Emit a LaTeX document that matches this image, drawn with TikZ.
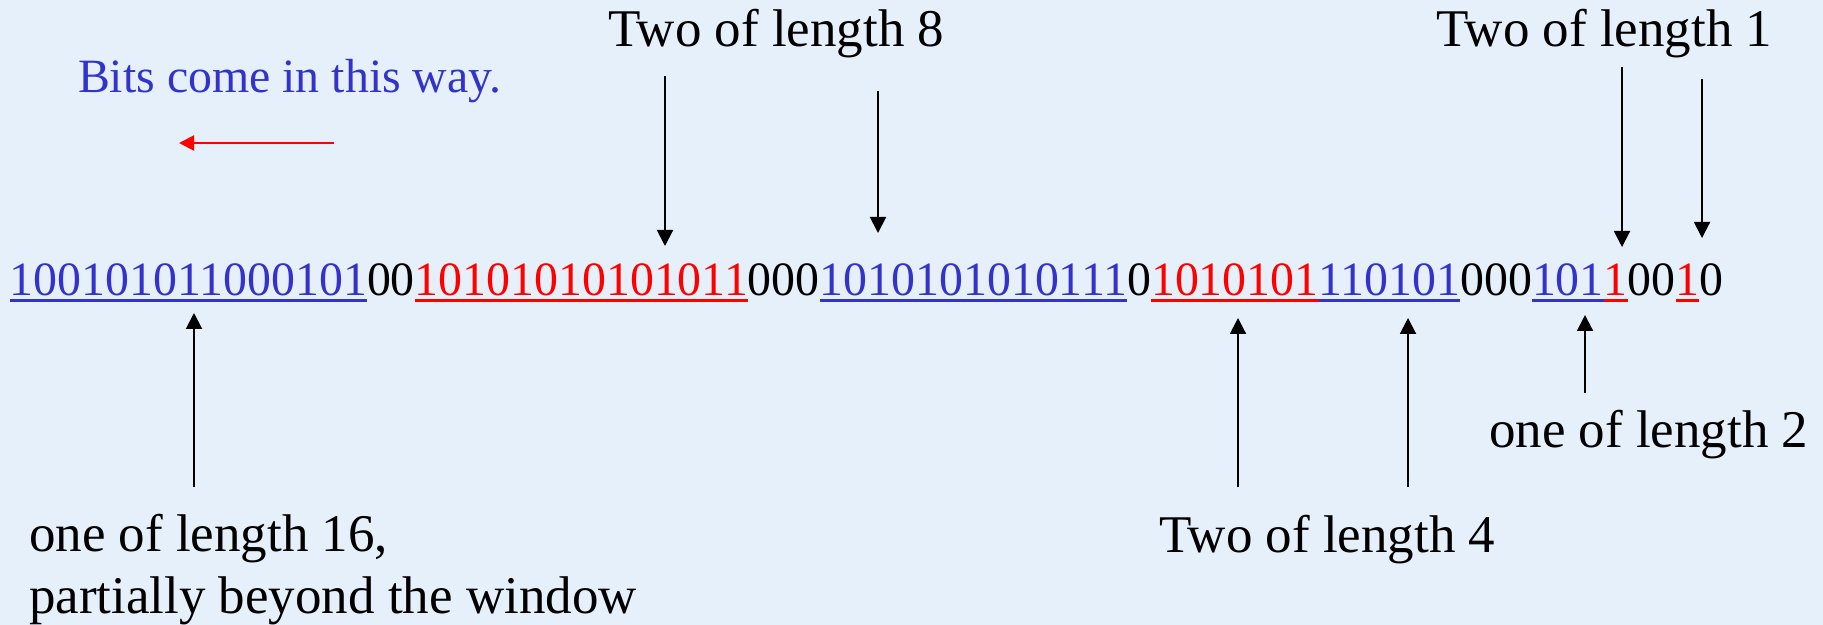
\documentclass[tikz,border=0pt]{standalone}
\usepackage{fontspec}
\setmainfont{Liberation Serif}
\usetikzlibrary{arrows.meta}
\definecolor{bg}{RGB}{230,240,250}
\definecolor{tblue}{RGB}{51,51,204}
\definecolor{tred}{RGB}{255,0,0}
\begin{document}
\begin{tikzpicture}[x=0.5pt,y=-0.5pt,
  txt/.style={inner sep=0pt, outer sep=0pt, anchor=base west, font=\fontsize{23.92}{30}\selectfont},
  lbl/.style={inner sep=0pt, outer sep=0pt, anchor=base west, font=\fontsize{26.5}{32}\selectfont},
  bb/.style={txt, text=tblue},
  br/.style={txt, text=tred},
  bk/.style={txt, text=black},
  ul/.style={line width=1.5pt},
  arr/.style={line width=1pt, -{Triangle[length=8pt,width=8pt]}},
  rarr/.style={line width=1pt, tred, -{Triangle[length=7.5pt,width=7.5pt]}}
]
\fill[bg] (0,0) rectangle (1823,625);
\useasboundingbox (0,0) rectangle (1823,625);

% bit string
\node[bb] (s1) at (10,296) {100101011000101};
\node[bk] (s2) at (s1.base east) {00};
\node[br] (s3) at (s2.base east) {10101010101011};
\node[bk] (s4) at (s3.base east) {000};
\node[bb] (s5) at (s4.base east) {1010101010111};
\node[bk] (s6) at (s5.base east) {0};
\node[br] (s7) at (s6.base east) {1010101};
\node[bb] (s8) at (s7.base east) {110101};
\node[bk] (s9) at (s8.base east) {000};
\node[bb] (s10) at (s9.base east) {101};
\node[br] (s11) at (s10.base east) {1};
\node[bk] (s12) at (s11.base east) {00};
\node[br] (s13) at (s12.base east) {1};
\node[bk] (s14) at (s13.base east) {0};

% underlines
\foreach \n/\c in {s1/tblue, s3/tred, s5/tblue, s7/tred, s8/tblue, s10/tblue, s11/tred, s13/tred}{
  \draw[ul, \c] ([yshift=-2.5pt]\n.base west) -- ([yshift=-2.5pt]\n.base east);
}

% labels
\node[txt, text=tblue] (bits) at (78,93) {Bits come in this way.};
\node[lbl] (t8) at (608,47) {Two of length 8};
\node[lbl] (t1) at (1436,47) {Two of length 1};
\node[lbl] (o2) at (1489,447) {one of length 2};
\node[lbl] (t4) at (1159,552) {Two of length 4};
\node[lbl] (o16a) at (29,551) {one of length 16,};
\node[lbl] (o16b) at (29,613) {partially beyond the window};

% arrow coordinates
\coordinate (r1) at (334,143); \coordinate (r2) at (179,143);
\coordinate (a1s) at (665,76);  \coordinate (a1e) at (665,246);
\coordinate (a2s) at (878,91);  \coordinate (a2e) at (878,233);
\coordinate (a3s) at (1622,67); \coordinate (a3e) at (1622,247);
\coordinate (a4s) at (1702,79); \coordinate (a4e) at (1702,238);
\coordinate (b1s) at (194,487); \coordinate (b1e) at (194,313);
\coordinate (b2s) at (1238,487); \coordinate (b2e) at (1238,318);
\coordinate (b3s) at (1408,487); \coordinate (b3e) at (1408,318);
\coordinate (b4s) at (1585,393); \coordinate (b4e) at (1585,315);

\draw[rarr] (r1) -- (r2);
\draw[arr] (a1s) -- (a1e);
\draw[arr] (a2s) -- (a2e);
\draw[arr] (a3s) -- (a3e);
\draw[arr] (a4s) -- (a4e);
\draw[arr] (b1s) -- (b1e);
\draw[arr] (b2s) -- (b2e);
\draw[arr] (b3s) -- (b3e);
\draw[arr] (b4s) -- (b4e);
\end{tikzpicture}
\end{document}
